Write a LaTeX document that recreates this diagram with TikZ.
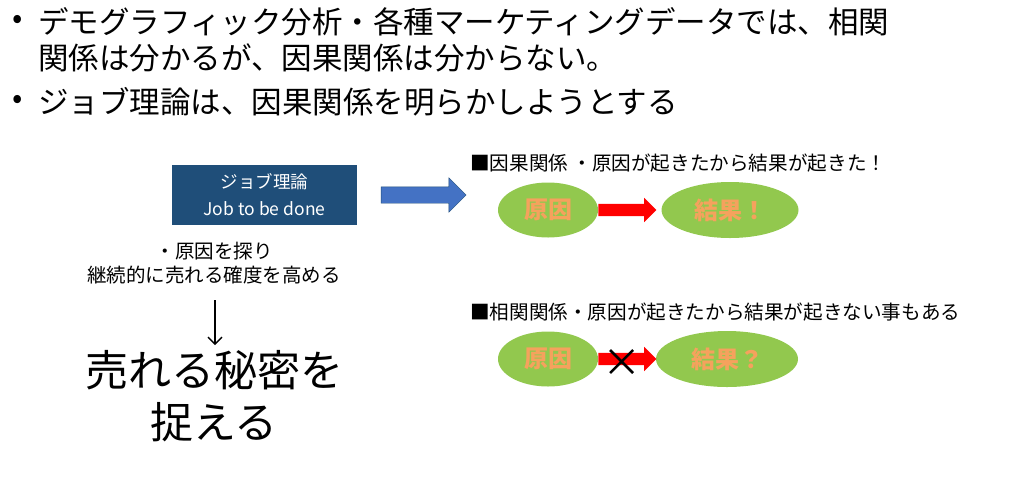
\documentclass[tikz,border=0pt]{standalone}
\usepackage{fontspec}
\setmainfont{Noto Sans CJK JP}
\usetikzlibrary{shapes.geometric,shapes.arrows,arrows.meta}
\definecolor{boxblue}{HTML}{1F4E79}
\definecolor{arrblue}{HTML}{4472C4}
\definecolor{leaf}{HTML}{92C84E}
\definecolor{ora}{HTML}{F5A25D}
\tikzset{
 big/.style={anchor=west,font=\fontsize{30.5}{32}\selectfont,inner sep=0},
 mid/.style={anchor=west,font=\fontsize{19.6}{22}\selectfont,inner sep=0},
 oval/.style={ellipse,fill=leaf,inner sep=0,font=\fontsize{24}{26}\selectfont\bfseries,text=ora},
 redarr/.style={single arrow,fill=red,inner xsep=0pt,inner ysep=6pt,minimum height=#1,single arrow head extend=6pt,anchor=west,shape border rotate=0}
}
\begin{document}
\begin{tikzpicture}[x=1pt,y=-1pt]
\useasboundingbox (0,0) rectangle (1024,480);
\node[big] (b1) at (12,22) {•};
\node[big] (t1) at (38,22) {デモグラフィック分析・各種マーケティングデータでは、相関};
\node[big] (t2) at (38,58) {関係は分かるが、因果関係は分からない。};
\node[big] (b2) at (12,102) {•};
\node[big] (t3) at (38,102) {ジョブ理論は、因果関係を明らかしようとする};
\node[fill=boxblue,text=white,minimum width=185pt,minimum height=60pt,align=center,font=\fontsize{17.5}{27}\selectfont] (jb) at (264.5,195) {ジョブ理論\\Job to be done};
\node[single arrow,draw=boxblue,fill=arrblue,minimum height=85pt,inner xsep=0pt,inner ysep=8pt,single arrow head extend=9pt] (ba) at (419.5,195) {};
\node[font=\fontsize{19.5}{24}\selectfont,align=center] (ex) at (214,263) {・原因を探り\\継続的に売れる確度を高める};
\coordinate (da) at (215,300);
\coordinate (db) at (215,345);
\draw[line width=1.3pt,-{Straight Barb[length=7pt,width=14pt]}] (da) -- (db);
\node[font=\fontsize{43}{52}\selectfont,align=center] (sec) at (214,396) {売れる秘密を\\捉える};
\node[mid] (h1) at (470,163) {■因果関係 ・原因が起きたから結果が起きた！};
\node[oval,minimum width=100pt,minimum height=55pt] (c1) at (548,210) {原因};
\node[oval,minimum width=137pt,minimum height=56pt] (r1) at (730,210) {結果！};
\node[redarr=58pt] (a1) at (c1.east) {};
\node[mid] (h2) at (470,312) {■相関関係・原因が起きたから結果が起きない事もある};
\node[oval,minimum width=100pt,minimum height=55pt] (c2) at (548,359) {原因};
\node[oval,minimum width=142pt,minimum height=56pt] (r2) at (727,359) {結果？};
\node[redarr=58pt] (a2) at (c2.east) {};
\coordinate (x1) at (610,350); \coordinate (x2) at (633,373);
\coordinate (x3) at (633,350); \coordinate (x4) at (610,373);
\draw[line width=2.5pt] (x1) -- (x2) (x3) -- (x4);
\end{tikzpicture}
\end{document}
